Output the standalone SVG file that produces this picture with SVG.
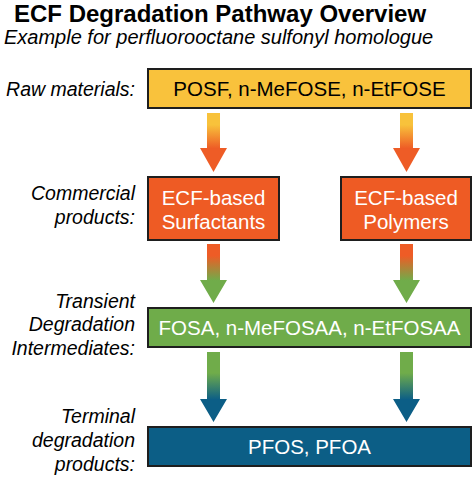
<svg xmlns="http://www.w3.org/2000/svg" width="474" height="483" viewBox="0 0 474 483">
<style>
.t{font-family:"Liberation Sans",Arial,sans-serif;}
.title{font-size:24px;font-weight:bold;fill:#000;}
.sub{font-size:20px;font-style:italic;fill:#000;}
.lab{font-size:19.5px;font-style:italic;fill:#000;text-anchor:end;}
.bt{font-size:20.5px;text-anchor:middle;fill:#fff;}
.box{stroke:#1e1e1e;stroke-width:2;}
</style>
<defs>
<linearGradient id="g1" x1="0" y1="0" x2="0" y2="1">
<stop offset="0.2" stop-color="#F8C23B"/><stop offset="0.6" stop-color="#EE5C26"/>
</linearGradient>
<linearGradient id="g2" x1="0" y1="0" x2="0" y2="1">
<stop offset="0.2" stop-color="#EE5C26"/><stop offset="0.62" stop-color="#70AC4A"/>
</linearGradient>
<linearGradient id="g3" x1="0" y1="0" x2="0" y2="1">
<stop offset="0.3" stop-color="#70AC4A"/><stop offset="0.68" stop-color="#0C5E86"/>
</linearGradient>
</defs>
<text class="t title" x="14" y="22">ECF Degradation Pathway Overview</text>
<text class="t sub" x="4" y="44">Example for perfluorooctane sulfonyl homologue</text>
<g id="labels">
<text class="t lab" x="135" y="96">Raw materials:</text>
<text class="t lab" x="135" y="200">Commercial</text>
<text class="t lab" x="135" y="224">products:</text>
<text class="t lab" x="135" y="308">Transient</text>
<text class="t lab" x="135" y="331">Degradation</text>
<text class="t lab" x="135" y="355">Intermediates:</text>
<text class="t lab" x="135" y="423">Terminal</text>
<text class="t lab" x="135" y="447">degradation</text>
<text class="t lab" x="135" y="471">products:</text>
</g>
<g id="connectors">
<path d="M207,113 H220 V148 H227 L213.5,172 L200,148 H207 Z" fill="url(#g1)"/>
<path d="M400,113 H413 V148 H420 L406.5,172 L393,148 H400 Z" fill="url(#g1)"/>
<path d="M207,244 H220 V280 H227 L213.5,303 L200,280 H207 Z" fill="url(#g2)"/>
<path d="M400,244 H413 V280 H420 L406.5,303 L393,280 H400 Z" fill="url(#g2)"/>
<path d="M207,352 H220 V399 H227 L213.5,422 L200,399 H207 Z" fill="url(#g3)"/>
<path d="M400,352 H413 V399 H420 L406.5,422 L393,399 H400 Z" fill="url(#g3)"/>
</g>
<g id="raw">
<rect class="box" x="148" y="69" width="323" height="39" fill="#F9C23C"/>
<text class="t bt" x="309.5" y="96" style="fill:#000">POSF, n-MeFOSE, n-EtFOSE</text>
</g>
<g id="surfactants">
<rect class="box" x="148" y="177" width="131" height="63" fill="#EE5B24"/>
<text class="t bt" x="213.5" y="205">ECF-based</text>
<text class="t bt" x="213.5" y="229">Surfactants</text>
</g>
<g id="polymers">
<rect class="box" x="341" y="177" width="130" height="63" fill="#EE5B24"/>
<text class="t bt" x="406" y="205">ECF-based</text>
<text class="t bt" x="406" y="229">Polymers</text>
</g>
<g id="intermediates">
<rect class="box" x="148" y="308" width="323" height="39" fill="#6FAC4A"/>
<text class="t bt" x="309.5" y="335">FOSA, n-MeFOSAA, n-EtFOSAA</text>
</g>
<g id="terminal">
<rect class="box" x="148" y="427" width="323" height="39" fill="#0C5E86"/>
<text class="t bt" x="309.5" y="454">PFOS, PFOA</text>
</g>
</svg>
